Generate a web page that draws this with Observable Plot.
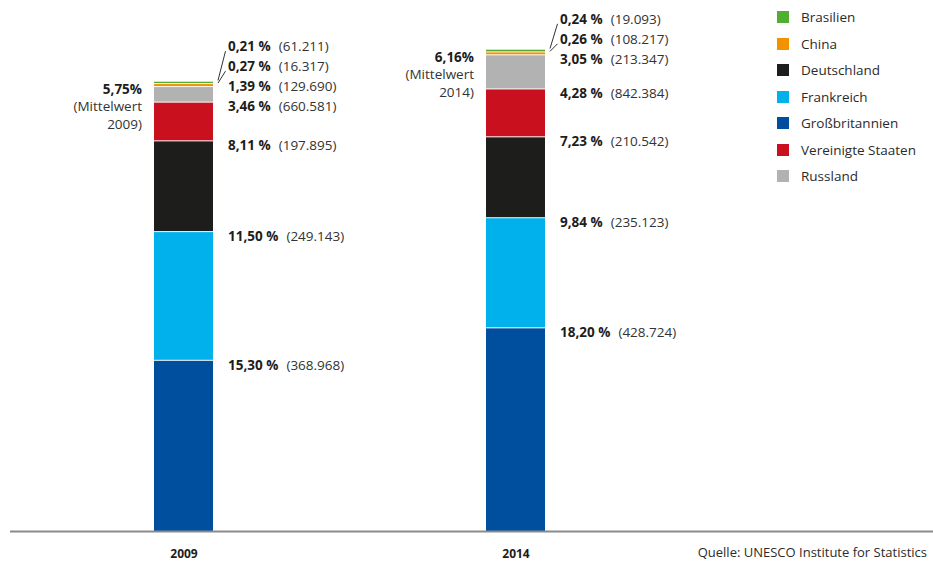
<!DOCTYPE html>
<html lang="de">
<head>
<meta charset="utf-8">
<script src="https://cdn.jsdelivr.net/npm/d3@7"></script>
<script src="https://cdn.jsdelivr.net/npm/@observablehq/plot@0.6"></script>
<style>
  html, body { margin: 0; padding: 0; background: #fff; }
  #chart { position: relative; width: 933px; height: 561px; overflow: hidden;
           font-family: "Open Sans", "Noto Sans", sans-serif; color: #333; }
  #legend { position: absolute; left: 777px; top: 3.75px; font-size: 13.5px; color: #2b2b2b; }
  .item { display: flex; align-items: center; height: 26.5px; white-space: nowrap; }
  .swatch { width: 12px; height: 12px; margin-right: 12px; flex: none; }
  #source { position: absolute; right: 6px; top: 544px; font-size: 13px; line-height: 16px;
            white-space: nowrap; color: #2b2b2b; }
</style>
</head>
<body>
<div id="chart"></div>
<script>
// Stack order from the bottom up
const countries = ["Großbritannien", "Frankreich", "Deutschland", "Vereinigte Staaten", "Russland", "China", "Brasilien"];
const colors = ["#004f9f", "#00b1eb", "#1d1d1b", "#c8101e", "#b2b2b2", "#f39200", "#52ae32"];
const years = ["2009", "2014"];

// Share in percent, and absolute numbers shown in brackets
const share2009 = [15.30, 11.50, 8.11, 3.46, 1.39, 0.27, 0.21];
const share2014 = [18.20, 9.84, 7.23, 4.28, 3.05, 0.26, 0.24];
const count2009 = [368968, 249143, 197895, 660581, 129690, 16317, 61211];
const count2014 = [428724, 235123, 210542, 842384, 213347, 108217, 19093];

// Mean per year
const means = [5.75, 6.16];

const legendOrder = ["Brasilien", "China", "Deutschland", "Frankreich", "Großbritannien", "Vereinigte Staaten", "Russland"];
const sourceText = "Quelle: UNESCO Institute for Statistics";

// Layout
const W = 933, H = 561, MT = 27.45, MB = 30, yMax = 45;
const pxPerPoint = (H - MB - MT) / yMax;
const labelStep = 20 / pxPerPoint;   // minimum spacing between labels
const labelDrop = 5 / pxPerPoint;    // label sits a little below segment top

const de = d3.formatLocale({decimal: ",", thousands: ".", grouping: [3], currency: ["", "€"]});
const fmtCount = de.format(",d");
const fmtShare = v => v.toFixed(2).replace(".", ",");

const shares = [share2009, share2014];
const counts = [count2009, count2014];

const rows = [];
const labels = [];
const leaders = [];
const totals = [];
years.forEach((year, j) => {
  let cum = 0, prev = -Infinity;
  countries.forEach((country, i) => {
    const s = shares[j][i];
    rows.push({year, country, share: s});
    const bottom = cum;
    cum += s;
    const want = cum - labelDrop;
    const ly = Math.max(want, prev + labelStep);
    prev = ly;
    labels.push({year, y: ly, pct: fmtShare(s) + " %", num: "(" + fmtCount(counts[j][i]) + ")"});
    if (ly - want > 8 / pxPerPoint) {
      leaders.push({year, from: (bottom + cum) / 2 + 2 / pxPerPoint, to: ly - 4 / pxPerPoint});
    }
  });
  totals.push({year, total: cum, text: fmtShare(means[j]) + "%\n(Mittelwert\n" + year + ")"});
});

const plot = Plot.plot({
  width: W,
  height: H,
  marginTop: MT,
  marginBottom: MB,
  marginLeft: 10,
  marginRight: 0,
  style: {fontFamily: "'Open Sans', 'Noto Sans', sans-serif", color: "#333"},
  x: {type: "band", domain: years, range: [153.3, 544.7], paddingInner: 0.8225, paddingOuter: 0, label: null},
  y: {domain: [0, yMax], axis: null},
  color: {domain: countries, range: colors},
  marks: [
    Plot.barY(rows, {x: "year", y: "share", fill: "country", order: countries, insetTop: 1}),
    Plot.ruleY([0], {stroke: "#8a8a8a", strokeWidth: 2}),
    Plot.axisX({tickSize: 0, tickPadding: 18, fontSize: 12, fontWeight: "bold", fill: "#1d1d1b", label: null}),
    Plot.link(leaders, {
      x1: "year", x2: "year", y1: "from", y2: "to", stroke: "#333", strokeWidth: 1,
      render(index, scales, values, dimensions, context, next) {
        const x1 = Float64Array.from(values.x1, v => v + 34);
        const x2 = Float64Array.from(values.x2, v => v + 41.5);
        return next(index, scales, {...values, x1, x2}, dimensions, context);
      }
    }),
    Plot.text(labels, {
      x: "year", y: "y", text: "pct", dx: 44, textAnchor: "start", lineAnchor: "middle", fontSize: 13.5,
      render(index, scales, values, dimensions, context, next) {
        const g = next(index, scales, values, dimensions, context);
        d3.select(g).selectAll("text").each(function(_, k) {
          const d = labels[index[k]];
          const t = d3.select(this).text(null);
          t.append("tspan").attr("font-weight", "bold").attr("fill", "#1d1d1b").text(d.pct);
          t.append("tspan").attr("dx", 8).attr("fill", "#333").text(d.num);
        });
        return g;
      }
    }),
    Plot.text(totals, {
      x: "year", y: "total", text: "text", dx: -42, textAnchor: "end", lineAnchor: "top",
      lineHeight: 1.3, fontSize: 13.5, fill: "#333",
      render(index, scales, values, dimensions, context, next) {
        const g = next(index, scales, values, dimensions, context);
        d3.select(g).selectAll("text tspan:first-child").attr("font-weight", "bold").attr("fill", "#1d1d1b");
        return g;
      }
    })
  ]
});

const chart = document.getElementById("chart");
chart.appendChild(plot);

// Legend in the upper right corner
const legend = document.createElement("div");
legend.id = "legend";
legendOrder.forEach(name => {
  const item = document.createElement("div");
  item.className = "item";
  const sw = document.createElement("span");
  sw.className = "swatch";
  sw.style.background = plot.scale("color").apply(name);
  const label = document.createElement("span");
  label.textContent = name;
  item.append(sw, label);
  legend.appendChild(item);
});
chart.appendChild(legend);

const src = document.createElement("div");
src.id = "source";
src.textContent = sourceText;
chart.appendChild(src);
</script>
</body>
</html>
